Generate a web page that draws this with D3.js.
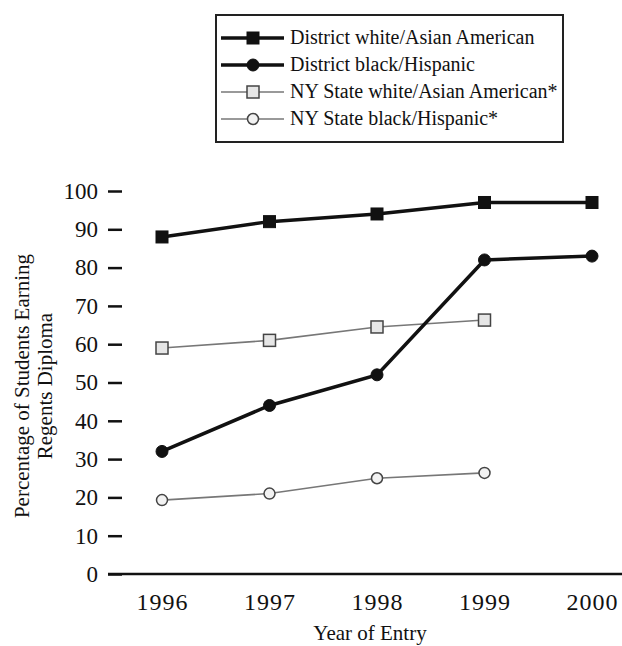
<!DOCTYPE html>
<html>
	<head>
		<title>Regents Diploma by Year of Entry</title>
		<style>
			body, html { margin: 0; padding: 0; background: #fff; }
			svg text { font-family: "Liberation Serif", "DejaVu Serif", serif; fill: #111; }
		</style>
	</head>
	<body>

		<svg id="svg" width="622" height="646"></svg>

		<script src="https://d3js.org/d3.v7.min.js"></script>
		<script>
			// data
			const years = [1996, 1997, 1998, 1999, 2000]
			const districtWhiteAsian = [88, 92, 94, 97, 97]
			const districtBlackHispanic = [32, 44, 52, 82, 83]
			const stateWhiteAsian = [59, 61, 64.5, 66.3]
			const stateBlackHispanic = [19.3, 21, 25, 26.4]
			const yTicks = [0, 10, 20, 30, 40, 50, 60, 70, 80, 90, 100]

			const seriesNames = [
				'District white/Asian American',
				'District black/Hispanic',
				'NY State white/Asian American*',
				'NY State black/Hispanic*'
			]

			// styles per series
			const series = [
				{ name: seriesNames[0], values: districtWhiteAsian, shape: 'square', heavy: true },
				{ name: seriesNames[1], values: districtBlackHispanic, shape: 'circle', heavy: true },
				{ name: seriesNames[2], values: stateWhiteAsian, shape: 'square', heavy: false },
				{ name: seriesNames[3], values: stateBlackHispanic, shape: 'circle', heavy: false }
			]

			const svg = d3.select('#svg')

			const xscale = d3.scalePoint()
				.domain(years)
				.range([162, 592])

			const yscale = d3.scaleLinear()
				.domain([0, 100])
				.range([574, 191])

			// y ticks: short dashes, no axis line
			const yAxis = svg.append('g')
				.attr('transform', 'translate(122,0)')
				.call(d3.axisLeft(yscale).tickValues(yTicks).tickSize(14).tickPadding(10))
			yAxis.select('.domain').remove()
			yAxis.selectAll('line').attr('stroke', '#111').attr('stroke-width', 2.5)
			yAxis.selectAll('text')
				.style('font-family', '"Liberation Serif", serif')
				.style('font-size', '23px')
				.attr('fill', '#111')

			// x axis: plain line with year labels
			svg.append('line')
				.attr('x1', 108).attr('x2', 622)
				.attr('y1', yscale(0)).attr('y2', yscale(0))
				.attr('stroke', '#111').attr('stroke-width', 2.5)

			const xAxis = svg.append('g')
				.attr('transform', `translate(0,${yscale(0)})`)
				.call(d3.axisBottom(xscale).tickSize(0).tickPadding(19))
			xAxis.select('.domain').remove()
			xAxis.selectAll('text')
				.style('font-family', '"Liberation Serif", serif')
				.style('font-size', '24px')
				.style('letter-spacing', '1px')
				.attr('fill', '#111')

			// axis titles
			svg.append('text')
				.attr('x', 370).attr('y', 640)
				.attr('text-anchor', 'middle')
				.style('font-size', '21px')
				.text('Year of Entry')

			const ytitle = svg.append('text')
				.attr('transform', 'translate(29,386) rotate(-90)')
				.attr('text-anchor', 'middle')
				.style('font-size', '21px')
			ytitle.append('tspan').attr('x', 0).attr('dy', 0).text('Percentage of Students Earning')
			ytitle.append('tspan').attr('x', 0).attr('dy', 23).text('Regents Diploma')

			function drawMarker(g, shape, heavy, x, y) {
				if (shape === 'square') {
					g.append('rect')
						.attr('x', x - 6).attr('y', y - 6)
						.attr('width', 12).attr('height', 12)
						.attr('fill', heavy ? '#111' : '#e6e6e6')
						.attr('stroke', heavy ? '#111' : '#444')
						.attr('stroke-width', heavy ? 1 : 1.5)
				} else {
					g.append('circle')
						.attr('cx', x).attr('cy', y)
						.attr('r', heavy ? 6 : 5.5)
						.attr('fill', heavy ? '#111' : '#f2f2f2')
						.attr('stroke', heavy ? '#111' : '#444')
						.attr('stroke-width', heavy ? 1 : 1.5)
				}
			}

			const linegen = d3.line()
				.x((d, i) => xscale(years[i]))
				.y(d => yscale(d))

			// draw light series first so heavy lines sit on top
			const order = [2, 3, 0, 1]
			order.forEach(k => {
				const s = series[k]
				const g = svg.append('g')
				g.append('path')
					.attr('d', linegen(s.values))
					.attr('fill', 'none')
					.attr('stroke', s.heavy ? '#111' : '#777')
					.attr('stroke-width', s.heavy ? 3.5 : 1.6)
				s.values.forEach((v, i) => drawMarker(g, s.shape, s.heavy, xscale(years[i]), yscale(v)))
			})

			// legend
			const legend = svg.append('g')
			legend.append('rect')
				.attr('x', 216).attr('y', 15)
				.attr('width', 347).attr('height', 127)
				.attr('fill', 'none')
				.attr('stroke', '#222')
				.attr('stroke-width', 2)

			const legendY = d3.scalePoint()
				.domain(seriesNames)
				.range([38, 119])

			series.forEach(s => {
				const y = legendY(s.name)
				legend.append('line')
					.attr('x1', 221).attr('x2', 284)
					.attr('y1', y).attr('y2', y)
					.attr('stroke', s.heavy ? '#111' : '#777')
					.attr('stroke-width', s.heavy ? 3.5 : 1.6)
				drawMarker(legend, s.shape, s.heavy, 253, y)
				legend.append('text')
					.attr('x', 290).attr('y', y + 6)
					.style('font-size', '20px')
					.text(s.name)
			})
		</script>
	</body>
</html>
